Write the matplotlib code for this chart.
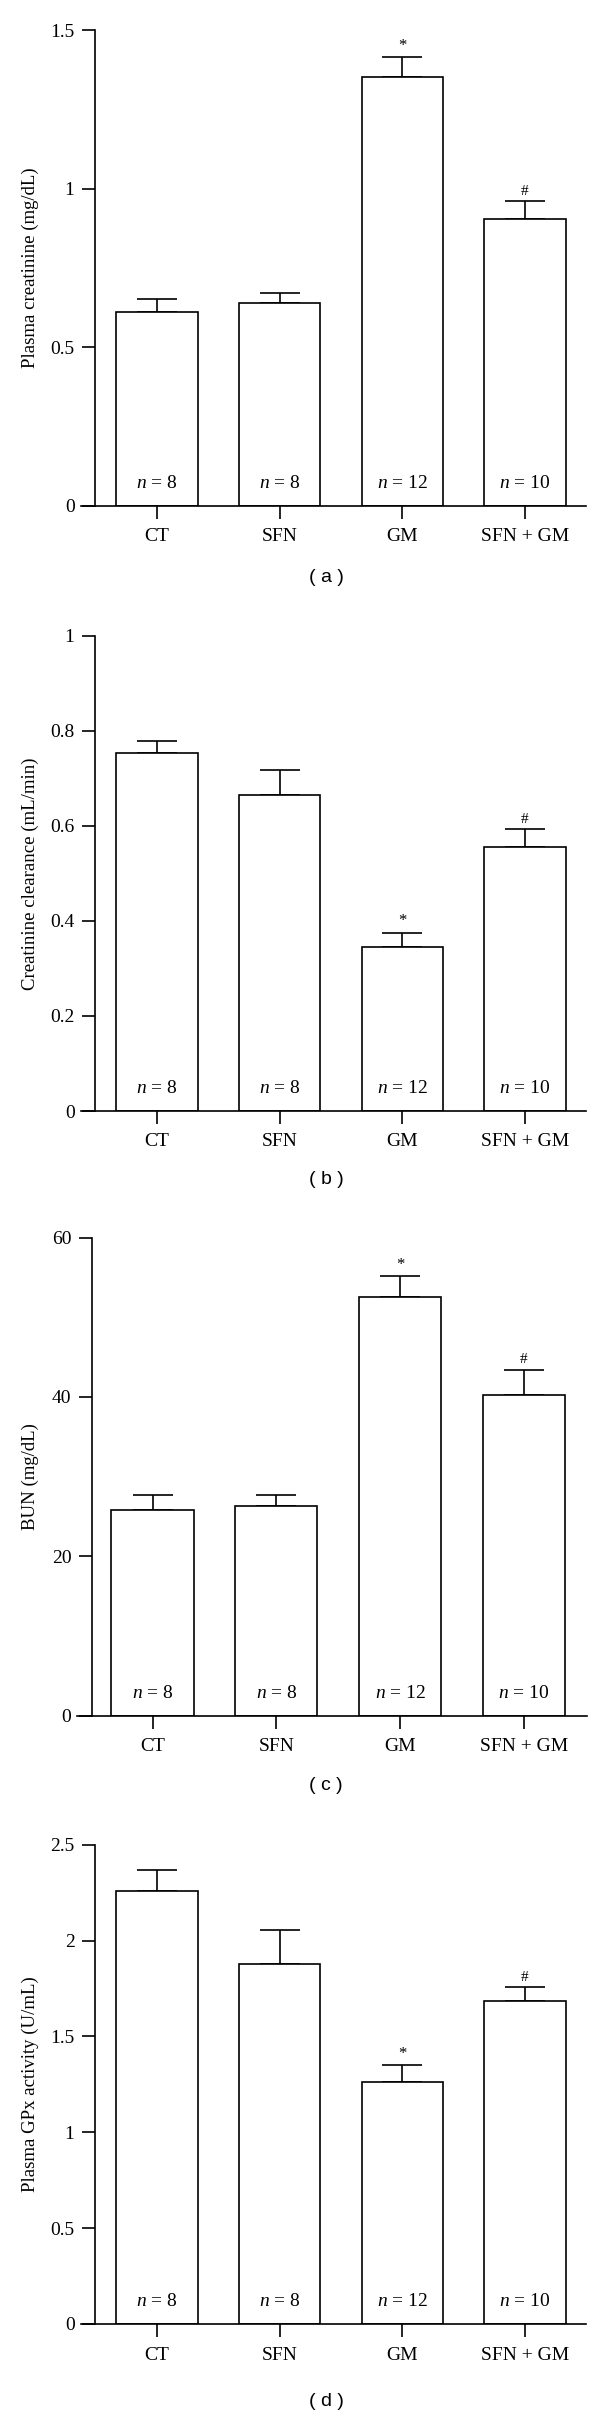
import matplotlib
matplotlib.use("Agg")
import matplotlib.pyplot as plt
import numpy as np

plt.rcParams['mathtext.fontset'] = 'custom'
plt.rcParams['mathtext.it'] = 'Liberation Serif:italic'
plt.rcParams['mathtext.rm'] = 'Liberation Serif'

groups = ["CT", "SFN", "GM", "SFN + GM"]
n_labels = ["8", "8", "12", "10"]

creat_mean = [0.612, 0.639, 1.351, 0.904]
creat_err = [0.039, 0.033, 0.063, 0.056]

clear_mean = [0.753, 0.665, 0.344, 0.555]
clear_err = [0.025, 0.052, 0.031, 0.038]

bun_mean = [25.85, 26.28, 52.57, 40.23]
bun_err = [1.79, 1.36, 2.57, 3.20]

gpx_mean = [2.258, 1.880, 1.262, 1.684]
gpx_err = [0.111, 0.178, 0.089, 0.073]

marks_a = ["", "", "*", "#"]
marks_b = ["", "", "*", "#"]
marks_c = ["", "", "*", "#"]
marks_d = ["", "", "*", "#"]

W, H = 600, 2425
fig = plt.figure(figsize=(W / 100, H / 100), dpi=100)

serif = "Liberation Serif"

panels = [
    dict(mean=creat_mean, err=creat_err, marks=marks_a, top=30.2, bot=505.6,
         xl=81, xr=586, ya=95, c0=157, sp=122.67, ylim=1.5,
         ticks=[0, 0.5, 1, 1.5], tlabels=["0", "0.5", "1", "1.5"],
         ylabel="Plasma creatinine (mg/dL)", tag="( a )", tagy=577),
    dict(mean=clear_mean, err=clear_err, marks=marks_b, top=635.6, bot=1111,
         xl=81, xr=586, ya=95, c0=157, sp=122.67, ylim=1.0,
         ticks=[0, 0.2, 0.4, 0.6, 0.8, 1], tlabels=["0", "0.2", "0.4", "0.6", "0.8", "1"],
         ylabel="Creatinine clearance (mL/min)", tag="( b )", tagy=1179),
    dict(mean=bun_mean, err=bun_err, marks=marks_c, top=1237.6, bot=1715.7,
         xl=77.4, xr=586.5, ya=91.8, c0=152.5, sp=123.8, ylim=60,
         ticks=[0, 20, 40, 60], tlabels=["0", "20", "40", "60"],
         ylabel="BUN (mg/dL)", tag="( c )", tagy=1786),
    dict(mean=gpx_mean, err=gpx_err, marks=marks_d, top=1844.8, bot=2324,
         xl=81, xr=586, ya=95, c0=157, sp=122.67, ylim=2.5,
         ticks=[0, 0.5, 1, 1.5, 2, 2.5], tlabels=["0", "0.5", "1", "1.5", "2", "2.5"],
         ylabel="Plasma GPx activity (U/mL)", tag="( d )", tagy=2402),
]

lw = 1.2
for p in panels:
    ax = fig.add_axes([p["xl"] / W, 1 - p["bot"] / H, (p["xr"] - p["xl"]) / W,
                       (p["bot"] - p["top"]) / H])
    x = np.arange(len(groups))
    ax.set_xlim((p["xl"] - p["c0"]) / p["sp"], (p["xr"] - p["c0"]) / p["sp"])
    ax.set_ylim(0, p["ylim"])
    ax.bar(x, p["mean"], width=0.665, color="white", edgecolor="black",
           linewidth=lw, zorder=2)
    ax.errorbar(x, p["mean"], yerr=[np.zeros(4), p["err"]], fmt="none",
                ecolor="black", elinewidth=lw, capsize=14.2, capthick=lw, zorder=1)
    for i in range(4):
        top = p["mean"][i] + p["err"][i]
        if p["marks"][i]:
            ax.annotate(p["marks"][i], (x[i], top), xytext=(0, 2.5),
                        textcoords="offset points", ha="center", va="bottom",
                        fontsize=12 if p["marks"][i] == "*" else 11,
                        family=serif)
        ax.annotate(r"$\it{n}$ = " + n_labels[i], (x[i], 0), xytext=(0, 16),
                    textcoords="offset points", ha="center", va="center",
                    fontsize=14, family=serif)
    for s in ["top", "right"]:
        ax.spines[s].set_visible(False)
    ax.spines["left"].set_position(("data", (p["ya"] - p["c0"]) / p["sp"]))
    ax.spines["left"].set_linewidth(lw)
    ax.spines["bottom"].set_linewidth(lw)
    ax.set_xticks(x)
    ax.set_xticklabels(groups, family=serif, fontsize=14)
    ax.set_yticks(p["ticks"])
    ax.set_yticklabels(p["tlabels"], family=serif, fontsize=14)
    ax.tick_params(axis="both", direction="out", length=9.7, width=lw)
    ax.tick_params(axis="x", pad=6.5)
    ax.tick_params(axis="y", pad=5)
    ax.set_ylabel(p["ylabel"], family=serif, fontsize=13.5)
    ax.yaxis.set_label_coords((39 - p["xl"]) / (p["xr"] - p["xl"]), 0.5)
    fig.text(326 / W, 1 - p["tagy"] / H, p["tag"],
             ha="center", va="center", fontsize=14, family="Liberation Sans")

fig.savefig("out.png", dpi=100)
